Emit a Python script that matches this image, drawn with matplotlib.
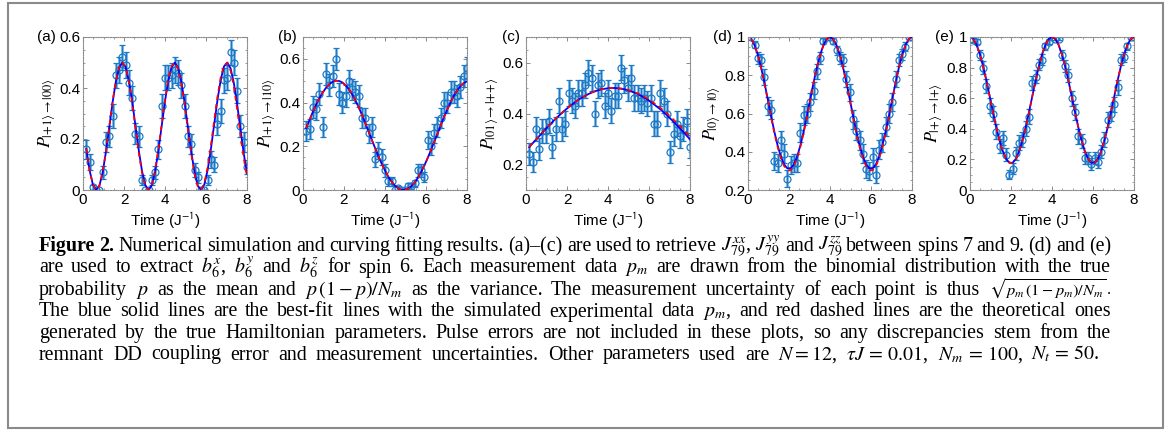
import numpy as np
import matplotlib
matplotlib.use("Agg")
import matplotlib.pyplot as plt
from matplotlib.patches import Rectangle
from matplotlib.ticker import AutoMinorLocator

plt.rcParams['font.family'] = ['Liberation Sans', 'DejaVu Sans']
plt.rcParams['mathtext.fontset'] = 'stix'

# ── data ──────────────────────────────────────────────────────────────────────
N_M = 100

t = [0.16, 0.32, 0.48, 0.64, 0.80, 0.96, 1.12, 1.28, 1.44, 1.60,
     1.76, 1.92, 2.08, 2.24, 2.40, 2.56, 2.72, 2.88, 3.04, 3.20,
     3.36, 3.52, 3.68, 3.84, 4.00, 4.16, 4.32, 4.48, 4.64, 4.80,
     4.96, 5.12, 5.28, 5.44, 5.60, 5.76, 5.92, 6.08, 6.24, 6.40,
     6.56, 6.72, 6.88, 7.04, 7.20, 7.36, 7.52, 7.68, 7.84, 8.00]

data_a = [0.16, 0.11, 0.01, 0.00, 0.00, 0.07, 0.19, 0.21, 0.29, 0.45,
          0.47, 0.52, 0.49, 0.42, 0.36, 0.22, 0.21, 0.04, 0.00, 0.00,
          0.04, 0.07, 0.16, 0.33, 0.44, 0.44, 0.45, 0.47, 0.46, 0.41,
          0.33, 0.21, 0.18, 0.08, 0.05, 0.00, 0.00, 0.04, 0.12, 0.10,
          0.26, 0.31, 0.43, 0.44, 0.54, 0.50, 0.39, 0.25, 0.19, 0.09]
fit_a = [0.161, 0.078, 0.022, 0.000, 0.017, 0.069, 0.150, 0.245, 0.342, 0.424,
         0.480, 0.500, 0.482, 0.427, 0.348, 0.251, 0.156, 0.074, 0.019, 0.000,
         0.019, 0.074, 0.155, 0.252, 0.348, 0.429, 0.482, 0.500, 0.480, 0.423,
         0.342, 0.245, 0.150, 0.070, 0.017, 0.000, 0.022, 0.078, 0.161, 0.258,
         0.353, 0.433, 0.485, 0.500, 0.477, 0.419, 0.336, 0.239, 0.144, 0.065]
theory_a = [0.163, 0.079, 0.022, 0.000, 0.017, 0.071, 0.152, 0.248, 0.345, 0.428,
            0.482, 0.500, 0.480, 0.422, 0.340, 0.242, 0.146, 0.066, 0.015, 0.000,
            0.022, 0.080, 0.162, 0.259, 0.355, 0.434, 0.485, 0.500, 0.476, 0.416,
            0.332, 0.234, 0.140, 0.062, 0.013, 0.001, 0.028, 0.090, 0.176, 0.274,
            0.368, 0.444, 0.490, 0.498, 0.468, 0.404, 0.316, 0.216, 0.124, 0.050]

data_b = [0.27, 0.28, 0.38, 0.37, 0.44, 0.29, 0.53, 0.48, 0.52, 0.60,
          0.44, 0.40, 0.43, 0.50, 0.46, 0.45, 0.43, 0.33, 0.33, 0.26,
          0.29, 0.14, 0.18, 0.15, 0.09, 0.04, 0.04, 0.00, 0.01, 0.00,
          0.00, 0.02, 0.02, 0.03, 0.09, 0.09, 0.06, 0.23, 0.20, 0.26,
          0.29, 0.33, 0.40, 0.40, 0.45, 0.45, 0.43, 0.47, 0.52, 0.56]
fit_b = [0.283, 0.321, 0.357, 0.390, 0.420, 0.446, 0.467, 0.484, 0.495, 0.500,
         0.499, 0.492, 0.479, 0.461, 0.437, 0.409, 0.378, 0.343, 0.306, 0.268,
         0.229, 0.191, 0.154, 0.120, 0.089, 0.061, 0.038, 0.020, 0.008, 0.001,
         0.001, 0.006, 0.017, 0.033, 0.055, 0.082, 0.112, 0.146, 0.182, 0.220,
         0.258, 0.297, 0.334, 0.369, 0.402, 0.431, 0.456, 0.475, 0.489, 0.497]
theory_b = fit_b

data_c = [0.24, 0.21, 0.34, 0.26, 0.33, 0.33, 0.37, 0.27, 0.34, 0.45,
          0.34, 0.36, 0.48, 0.45, 0.43, 0.48, 0.48, 0.51, 0.56, 0.54,
          0.40, 0.51, 0.52, 0.43, 0.48, 0.41, 0.47, 0.47, 0.58, 0.53,
          0.50, 0.54, 0.46, 0.46, 0.45, 0.46, 0.44, 0.46, 0.36, 0.36,
          0.48, 0.45, 0.40, 0.25, 0.32, 0.36, 0.31, 0.34, 0.37, 0.27]
fit_c = [0.268, 0.283, 0.297, 0.311, 0.325, 0.339, 0.353, 0.366, 0.379, 0.391,
         0.403, 0.414, 0.425, 0.435, 0.445, 0.454, 0.462, 0.469, 0.476, 0.482,
         0.487, 0.491, 0.495, 0.497, 0.499, 0.500, 0.500, 0.499, 0.497, 0.495,
         0.492, 0.487, 0.482, 0.477, 0.470, 0.463, 0.455, 0.446, 0.436, 0.426,
         0.416, 0.404, 0.393, 0.380, 0.368, 0.354, 0.341, 0.327, 0.313, 0.299]
theory_c = [0.268, 0.283, 0.297, 0.311, 0.325, 0.339, 0.353, 0.366, 0.379, 0.391,
            0.403, 0.414, 0.425, 0.435, 0.445, 0.454, 0.462, 0.469, 0.476, 0.482,
            0.487, 0.491, 0.495, 0.497, 0.499, 0.500, 0.500, 0.499, 0.498, 0.496,
            0.493, 0.489, 0.484, 0.479, 0.473, 0.466, 0.459, 0.450, 0.441, 0.432,
            0.422, 0.411, 0.400, 0.388, 0.376, 0.363, 0.350, 0.337, 0.323, 0.309]

data_d = [1.00, 0.96, 0.89, 0.88, 0.79, 0.64, 0.62, 0.35, 0.34, 0.46,
          0.39, 0.26, 0.33, 0.34, 0.34, 0.50, 0.59, 0.60, 0.66, 0.72,
          0.82, 0.89, 0.98, 1.00, 1.00, 0.98, 0.93, 0.89, 0.88, 0.78,
          0.71, 0.57, 0.51, 0.46, 0.39, 0.31, 0.30, 0.37, 0.28, 0.41,
          0.45, 0.53, 0.60, 0.66, 0.78, 0.88, 0.91, 0.95, 1.00, 1.00]
fit_d = [0.989, 0.957, 0.907, 0.840, 0.762, 0.677, 0.590, 0.508, 0.435, 0.376,
         0.334, 0.313, 0.313, 0.334, 0.376, 0.435, 0.508, 0.590, 0.677, 0.762,
         0.840, 0.907, 0.957, 0.989, 1.000, 0.989, 0.957, 0.907, 0.840, 0.762,
         0.677, 0.590, 0.508, 0.435, 0.376, 0.334, 0.313, 0.313, 0.334, 0.376,
         0.435, 0.508, 0.590, 0.677, 0.762, 0.840, 0.907, 0.957, 0.989, 1.000]
theory_d = [0.989, 0.957, 0.905, 0.838, 0.758, 0.672, 0.584, 0.501, 0.427, 0.367,
            0.325, 0.303, 0.303, 0.325, 0.367, 0.427, 0.501, 0.584, 0.672, 0.758,
            0.838, 0.905, 0.957, 0.989, 1.000, 0.989, 0.957, 0.905, 0.838, 0.758,
            0.672, 0.584, 0.501, 0.427, 0.367, 0.325, 0.303, 0.303, 0.325, 0.367,
            0.427, 0.501, 0.584, 0.672, 0.758, 0.838, 0.905, 0.957, 0.989, 1.000]

data_e = [0.98, 0.97, 0.88, 0.80, 0.68, 0.55, 0.50, 0.38, 0.29, 0.34,
          0.23, 0.10, 0.14, 0.24, 0.31, 0.33, 0.40, 0.48, 0.70, 0.74,
          0.82, 0.85, 0.94, 0.97, 1.00, 0.99, 0.99, 0.88, 0.81, 0.75,
          0.60, 0.51, 0.35, 0.32, 0.21, 0.21, 0.17, 0.21, 0.18, 0.25,
          0.33, 0.46, 0.50, 0.56, 0.67, 0.85, 0.87, 0.94, 1.00, 1.00]
fit_e = [0.987, 0.949, 0.888, 0.809, 0.715, 0.613, 0.510, 0.412, 0.325, 0.254,
         0.204, 0.178, 0.178, 0.204, 0.254, 0.325, 0.412, 0.510, 0.613, 0.715,
         0.809, 0.888, 0.949, 0.987, 1.000, 0.987, 0.949, 0.888, 0.809, 0.715,
         0.613, 0.510, 0.412, 0.325, 0.254, 0.204, 0.178, 0.178, 0.204, 0.254,
         0.325, 0.412, 0.510, 0.613, 0.715, 0.809, 0.888, 0.949, 0.987, 1.000]
theory_e = fit_e

panel_tags = ['(a)', '(b)', '(c)', '(d)', '(e)']
y_labels = [r'$P_{|{+}1\rangle\rightarrow|00\rangle}$',
            r'$P_{|{+}1\rangle\rightarrow|10\rangle}$',
            r'$P_{|01\rangle\rightarrow|{+}{+}\rangle}$',
            r'$P_{|0\rangle\rightarrow|0\rangle}$',
            r'$P_{|{+}\rangle\rightarrow|{+}\rangle}$']
y_limits = [(0, 0.6), (0, 0.7), (0.1, 0.7), (0.2, 1.0), (0, 1.0)]
y_ticks = [[0, 0.2, 0.4, 0.6], [0, 0.2, 0.4, 0.6], [0.2, 0.4, 0.6],
           [0.2, 0.4, 0.6, 0.8, 1], [0, 0.2, 0.4, 0.6, 0.8, 1]]
x_ticks = [0, 2, 4, 6, 8]

caption_lines = [
    r"Numerical simulation and curving fitting results. (a)–(c) are used to retrieve "
    r"$J_{79}^{xx}$, $J_{79}^{yy}$ and $J_{79}^{zz}$ between spins 7 and 9. (d) and (e)",
    r"are used to extract $b_6^x$, $b_6^y$ and $b_6^z$ for spin 6. Each measurement data "
    r"$p_m$ are drawn from the binomial distribution with the true",
    r"probability $p$ as the mean and $p\,(1-p)/N_m$ as the variance. The measurement "
    r"uncertainty of each point is thus $\sqrt{p_m\,(1-p_m)/N_m}\,$.",
    r"The blue solid lines are the best-fit lines with the simulated experimental data "
    r"$p_m$, and red dashed lines are the theoretical ones",
    r"generated by the true Hamiltonian parameters. Pulse errors are not included in "
    r"these plots, so any discrepancies stem from the",
    r"remnant DD coupling error and measurement uncertainties. Other parameters used are "
    r"$N=12$, $\tau{J}\,=\,0.01$, $N_m\,=\,100$, $N_t\,=\,50$.",
]

# ── layout (pixels) ───────────────────────────────────────────────────────────
W, H = 1168, 432
ax_left = [83, 303, 526, 748, 970]
tag_x = [37, 278, 502, 713, 935]
AX_W, AX_TOP, AX_BOT = 164, 37, 190

PT_BLUE = '#1f78c4'
BAR_LIGHT = '#86bde6'

fig = plt.figure(figsize=(W / 100, H / 100), dpi=100)

series = [(data_a, fit_a, theory_a), (data_b, fit_b, theory_b),
          (data_c, fit_c, theory_c), (data_d, fit_d, theory_d),
          (data_e, fit_e, theory_e)]

for i, (data, fit, theory) in enumerate(series):
    ax = fig.add_axes([ax_left[i] / W, 1 - AX_BOT / H, AX_W / W, (AX_BOT - AX_TOP) / H])
    p = np.array(data)
    err = np.sqrt(p * (1 - p) / N_M)
    ax.errorbar(t, p, yerr=err, fmt='none', ecolor=BAR_LIGHT, elinewidth=2.2, zorder=1)
    ax.errorbar(t, p, yerr=err, fmt='o', ms=5, mfc='none', mec=PT_BLUE, mew=0.9,
                ecolor=PT_BLUE, elinewidth=0.8, capsize=2, capthick=0.9, zorder=2)
    ax.plot(t, fit, color='#0000ff', lw=1.3, zorder=3)
    ax.plot(t, theory, color='#ff0000', lw=1.2, ls=(0, (3, 2.5)), zorder=4)

    ax.set_xlim(0, 8)
    ax.set_ylim(*y_limits[i])
    ax.set_xticks(x_ticks)
    ax.set_xticklabels([str(v) for v in x_ticks])
    ax.set_yticks(y_ticks[i])
    ax.set_yticklabels([f'{v:g}' for v in y_ticks[i]])
    ax.xaxis.set_minor_locator(AutoMinorLocator(4))
    ax.yaxis.set_minor_locator(AutoMinorLocator(4))
    ax.tick_params(which='both', direction='in', top=True, right=True,
                   color='#777777', labelsize=11, pad=2)
    ax.tick_params(which='major', length=3, width=0.6)
    ax.tick_params(which='minor', length=1.5, width=0.5)
    for s in ax.spines.values():
        s.set_color('#8a8a8a')
        s.set_linewidth(0.8)
        s.set_linestyle((0, (1, 1.2)))
    ax.set_xlabel(r'Time (J$^{\mathsf{-1}}$)', fontsize=11, labelpad=3)
    ax.set_ylabel(y_labels[i], fontsize=13, labelpad=1)
    fig.text(tag_x[i] / W, 1 - AX_TOP / H, panel_tags[i], fontsize=11,
             ha='left', va='center')

# ── caption, justified word by word ──────────────────────────────────────────
CAP_X0 = 39
line_ends = [1111, 1111, 1111, 1111, 1111, 1100]
cap_base = [251, 272.5, 295, 316.5, 338, 359.5]
CAP_FS = 14.4
renderer = fig.canvas.get_renderer()

for li, line in enumerate(caption_lines):
    words = [(w, False) for w in line.split(' ')]
    if li == 0:
        words = [('Figure', True), ('2.', True)] + words
    arts = []
    for w, b in words:
        size = CAP_FS * 0.82 if r'\sqrt' in w else CAP_FS
        arts.append(fig.text(0, 1 - cap_base[li] / H, w, fontsize=size,
                             family='Liberation Serif',
                             weight='bold' if b else 'normal',
                             va='baseline', ha='left'))
    widths = [a.get_window_extent(renderer).width for a in arts]
    gap = max((line_ends[li] - CAP_X0 - sum(widths)) / (len(arts) - 1), 3.0)
    x = CAP_X0
    for a, w in zip(arts, widths):
        a.set_x(x / W)
        x += w + gap

fig.patches.append(Rectangle((8 / W, 1 - 428 / H), 1155 / W, 425 / H,
                             transform=fig.transFigure, fill=False,
                             ec='#8a8a8a', lw=1.5))

fig.savefig('out.png', dpi=100)
